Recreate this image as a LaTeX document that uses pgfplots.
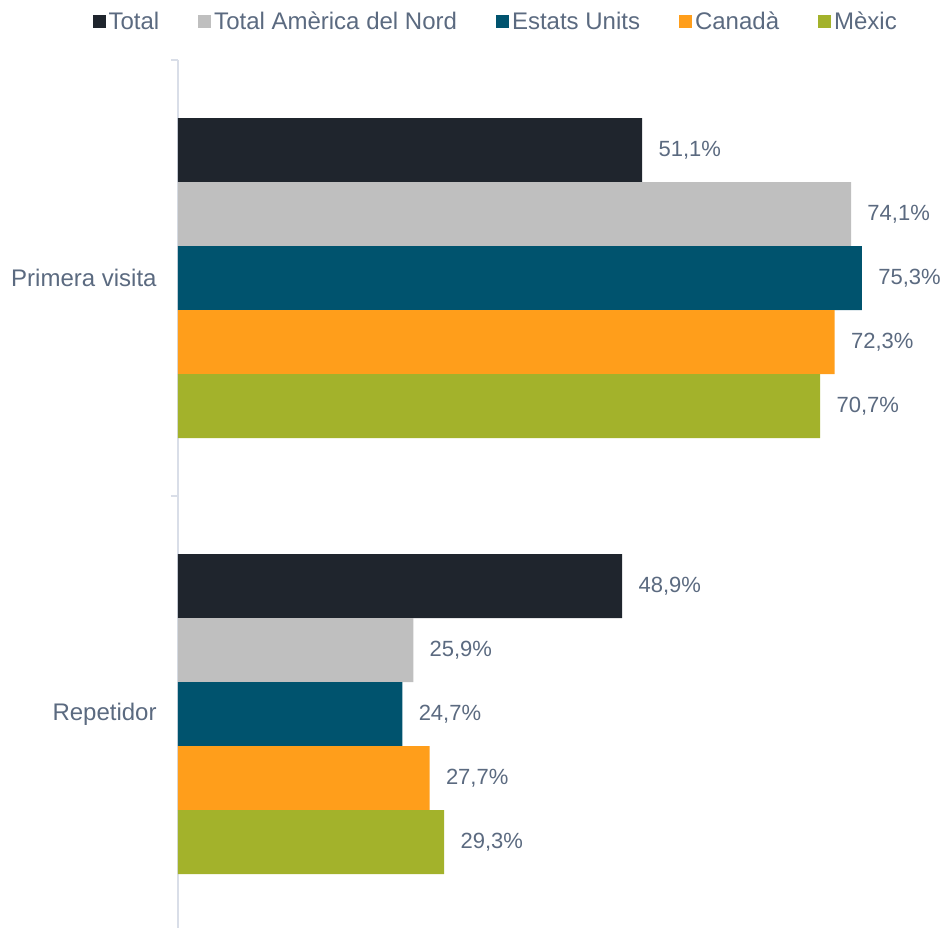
\documentclass[border=0pt]{standalone}
\usepackage{fontspec}
\setmainfont{Liberation Sans}
\usepackage{pgfplots}
\pgfplotsset{compat=1.18}
\definecolor{cTotal}{HTML}{1F252D}
\definecolor{cTAN}{HTML}{BFBFBF}
\definecolor{cEU}{HTML}{00536E}
\definecolor{cCA}{HTML}{FF9E1B}
\definecolor{cMX}{HTML}{A3B22B}
\definecolor{txt}{HTML}{5B6A80}
\definecolor{axcol}{HTML}{D9DEE8}
\pgfplotsset{
  mybar/.style={fill=#1, draw=none,
    legend image code/.code={\fill[#1] (0pt,-3.25pt) rectangle (6.5pt,3.25pt);}},
}
\begin{document}
\begin{tikzpicture}
\path[use as bounding box] (-89pt,0pt) rectangle (381.5pt,463.5pt);
\begin{axis}[
  at={(0pt,-2.5pt)}, anchor=south west,
  scale only axis, width=381.5pt, height=436pt,
  xbar=0pt, bar width=32pt,
  xmin=0, xmax=84, ymin=-0.5, ymax=1.5, y dir=reverse,
  hide x axis,
  axis y line*=left,
  y axis line style={draw=axcol, line width=1pt, -},
  ytick={0,1}, yticklabels={Primera visita, Repetidor},
  major tick length=0pt,
  minor ytick={-0.5,0.5,1.5}, minor tick length=3.5pt, tick align=outside,
  minor tick style={draw=axcol, line width=1pt},
  yticklabel style={font=\fontsize{12}{14}\selectfont, text=txt, inner sep=0pt, xshift=-10.5pt},
  /pgf/number format/assume math mode=true,
  nodes near coords={\pgfmathprintnumber[fixed,fixed zerofill,precision=1,use comma]{\pgfplotspointmeta}\%},
  nodes near coords style={anchor=west, inner sep=0pt, xshift=8pt, font=\fontsize{11}{13}\selectfont, text=txt},
  legend columns=5,
  legend style={draw=none, fill=none, at={(axis description cs:0.417,1.0436)}, anchor=center,
    font=\fontsize{12}{14}\selectfont, text=txt,
    /tikz/every even column/.append style={column sep=18pt},
    nodes={inner sep=1.5pt}},
]
\addplot[mybar=cTotal, bar shift=64pt] coordinates {(51.1,0) (48.9,1)};
\addplot[mybar=cTAN, bar shift=32pt] coordinates {(74.1,0) (25.9,1)};
\addplot[mybar=cEU, bar shift=0pt] coordinates {(75.3,0) (24.7,1)};
\addplot[mybar=cCA, bar shift=-32pt] coordinates {(72.3,0) (27.7,1)};
\addplot[mybar=cMX, bar shift=-64pt] coordinates {(70.7,0) (29.3,1)};
\legend{Total, Total Amèrica del Nord, Estats Units, Canadà, Mèxic}
\end{axis}
\end{tikzpicture}
\end{document}
